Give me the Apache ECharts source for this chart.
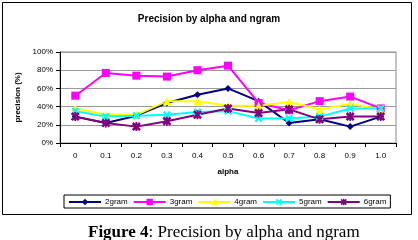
<!DOCTYPE html>
<html>
<head>
<meta charset="utf-8">
<script src="https://cdn.jsdelivr.net/npm/echarts@6/dist/echarts.min.js"></script>
<style>
  html, body { margin: 0; padding: 0; background: #fff; }
  #chart { width: 418px; height: 240px; }
</style>
</head>
<body>
<div id="chart"></div>
<script>
    // values (percent)
    let alphas = ['0', '0.1', '0.2', '0.3', '0.4', '0.5', '0.6', '0.7', '0.8', '0.9', '1.0'];
    let gram2 = [29, 22, 30, 44, 53, 60, 46, 22, 26, 18, 29];
    let gram3 = [52, 77, 74, 73, 80, 85, 44, 36, 46, 51, 38];
    let gram4 = [38, 31, 31, 46, 46, 41, 41, 45, 37, 43, 37];
    let gram5 = [35, 29, 30, 31, 34, 35, 27, 27, 29, 38, 38];
    let gram6 = [29, 22, 18, 24, 31, 38, 33, 37, 26, 29, 29];

    let xMark = 'path://M0,2L2,0L5,3L8,0L10,2L7,5L10,8L8,10L5,7L2,10L0,8L3,5Z';
    let starMark = 'path://M0,2L2,0L5,3L8,0L10,2L7,5L10,8L8,10L5,7L2,10L0,8L3,5ZM4,0L6,0L6,10L4,10Z';

    let font = 'Liberation Sans';
    let chart = echarts.init(document.getElementById('chart'));

    function line(name, data, color, symbol, size) {
        return {
            name: name,
            type: 'line',
            data: data,
            symbol: symbol,
            symbolSize: size,
            showAllSymbol: true,
            color: color,
            lineStyle: { width: 2, color: color },
            itemStyle: { color: color },
            animation: false
        };
    }

    chart.setOption({
        animation: false,
        title: {
            text: 'Precision by alpha and ngram',
            left: 'center',
            top: 9,
            textStyle: { fontFamily: font, fontSize: 10, fontWeight: 'bold', color: '#000' }
        },
        grid: {
            left: 60, right: 22, top: 52, bottom: 97,
            show: true, borderColor: '#888', borderWidth: 1
        },
        xAxis: {
            type: 'category',
            data: alphas,
            boundaryGap: true,
            name: 'alpha',
            nameLocation: 'middle',
            nameGap: 25,
            nameTextStyle: { fontFamily: font, fontSize: 8, fontWeight: 'bold', color: '#000' },
            axisLine: { lineStyle: { color: '#000', width: 1 } },
            axisTick: { show: true, length: 4, lineStyle: { color: '#000' } },
            axisLabel: { fontFamily: font, fontSize: 8, color: '#000', margin: 9 },
            splitLine: { show: false }
        },
        yAxis: {
            type: 'value',
            min: 0, max: 100, interval: 20,
            name: 'precision (%)',
            nameLocation: 'middle',
            nameGap: 31,
            nameTextStyle: { fontFamily: font, fontSize: 8, fontWeight: 'bold', color: '#000' },
            axisLine: { show: true, lineStyle: { color: '#000', width: 1 } },
            axisTick: { show: true, length: 4, lineStyle: { color: '#000' } },
            axisLabel: { fontFamily: font, fontSize: 8, color: '#000', formatter: '{value}%', margin: 7 },
            splitLine: { lineStyle: { color: '#999', width: 1 } }
        },
        legend: {
            left: 64, top: 195,
            padding: [3, 4, 2, 4],
            borderColor: '#000', borderWidth: 1,
            itemWidth: 32, itemHeight: 8, itemGap: 5,
            textStyle: { fontFamily: font, fontSize: 8, color: '#000', padding: [0, 0, 0, -1] },
            data: ['2gram', '3gram', '4gram', '5gram', '6gram']
        },
        series: [
            line('2gram', gram2, '#000080', 'diamond', 7),
            line('3gram', gram3, '#ff00ff', 'rect', 8),
            line('4gram', gram4, '#ffff00', 'triangle', 8),
            line('5gram', gram5, '#00ffff', xMark, 8),
            line('6gram', gram6, '#800080', starMark, 9)
        ],
        graphic: [
            {
                type: 'rect',
                shape: { x: 2.5, y: 2.5, width: 409, height: 212 },
                style: { fill: 'none', stroke: '#000', lineWidth: 1 },
                silent: true
            },
            {
                type: 'text',
                left: 88, top: 224,
                style: {
                    text: '{b|Figure 4}: Precision by alpha and ngram',
                    font: '17px "Liberation Serif"',
                    fill: '#000',
                    rich: {
                        b: { font: 'bold 17px "Liberation Serif"', fill: '#000' }
                    }
                }
            }
        ]
    });
</script>
</body>
</html>
